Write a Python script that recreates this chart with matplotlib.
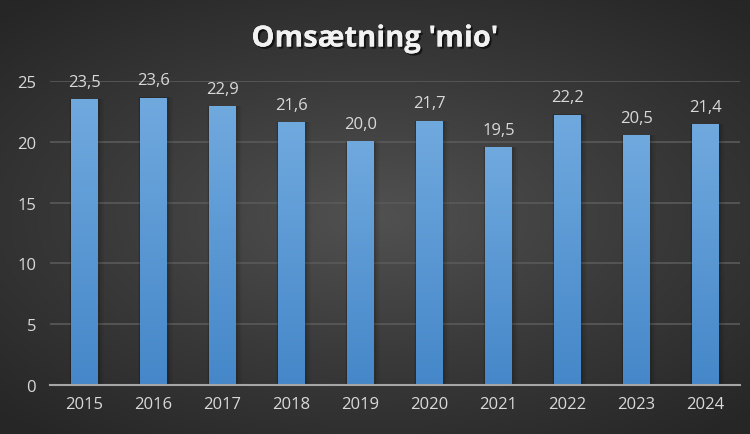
import numpy as np
import matplotlib.pyplot as plt
import matplotlib.patheffects as pe
from matplotlib.colors import LinearSegmentedColormap

# --- Data ---
years = ['2015', '2016', '2017', '2018', '2019', '2020', '2021', '2022', '2023', '2024']
revenue = [23.5, 23.6, 22.9, 21.6, 20.0, 21.7, 19.5, 22.2, 20.5, 21.4]
title = "Omsætning 'mio'"

plt.rcParams['font.family'] = ['Open Sans', 'DejaVu Sans']

fig = plt.figure(figsize=(7.5, 4.35), dpi=100)

# --- Background: radial gradient ---
bg = fig.add_axes([0, 0, 1, 1], zorder=0)
yy, xx = np.mgrid[-1:1:300j, -1:1:500j]
r = np.sqrt((xx * 0.9) ** 2 + (yy * 1.0) ** 2)
bg_cmap = LinearSegmentedColormap.from_list('bg', ['#515151', '#3a3a3a', '#262626'])
bg.imshow(r, cmap=bg_cmap, aspect='auto', extent=[0, 1, 0, 1], vmin=0, vmax=1.3)
bg.axis('off')

ax = fig.add_axes([50 / 750, 49 / 435, 690 / 750, 304 / 435], zorder=1)
ax.patch.set_alpha(0)

x = np.arange(len(years))
width = 0.39
bar_cmap = LinearSegmentedColormap.from_list('bar', ['#4587c9', '#70a9de'])
grad = np.linspace(0, 1, 256).reshape(-1, 1)

for xi, v in zip(x, revenue):
    # soft shadow
    for k, a in enumerate([0.10, 0.07, 0.04]):
        off = 0.03 * (k + 1)
        ax.add_patch(plt.Rectangle((xi - width / 2 - off * 0.3, 0), width + off * 1.3, v + 0.05,
                                   color='black', alpha=a, zorder=2, lw=0))
    ax.imshow(grad, cmap=bar_cmap, origin='lower', aspect='auto',
              extent=[xi - width / 2, xi + width / 2, 0, v], zorder=3)
    ax.text(xi, v + 0.8, f'{v:.1f}'.replace('.', ','), ha='center', va='bottom',
            color='#d9d9d9', fontsize=12)

ax.set_xlim(-0.5, len(years) - 0.5)
ax.set_ylim(0, 25)
ax.set_yticks([0, 5, 10, 15, 20, 25])
ax.set_xticks(x)
ax.set_xticklabels(years)
ax.grid(axis='y', color='#5a5a5a', lw=1.2, zorder=1)
ax.set_axisbelow(True)
for s in ['top', 'right', 'left']:
    ax.spines[s].set_visible(False)
ax.spines['bottom'].set_color('#a6a6a6')
ax.spines['bottom'].set_linewidth(1.5)
ax.spines['bottom'].set_zorder(4)
ax.tick_params(axis='both', length=0, colors='#d9d9d9', labelsize=12)
ax.tick_params(axis='x', pad=8)
ax.tick_params(axis='y', pad=10)

fig.text(0.5, 1 - 40 / 435, title, ha='center', va='center', color='#f2f2f2',
         fontsize=21, fontweight='bold',
         path_effects=[pe.withSimplePatchShadow(offset=(1.5, -1.5), shadow_rgbFace='black', alpha=0.6),
                       pe.Normal()])

fig.savefig('out.png', dpi=100)
